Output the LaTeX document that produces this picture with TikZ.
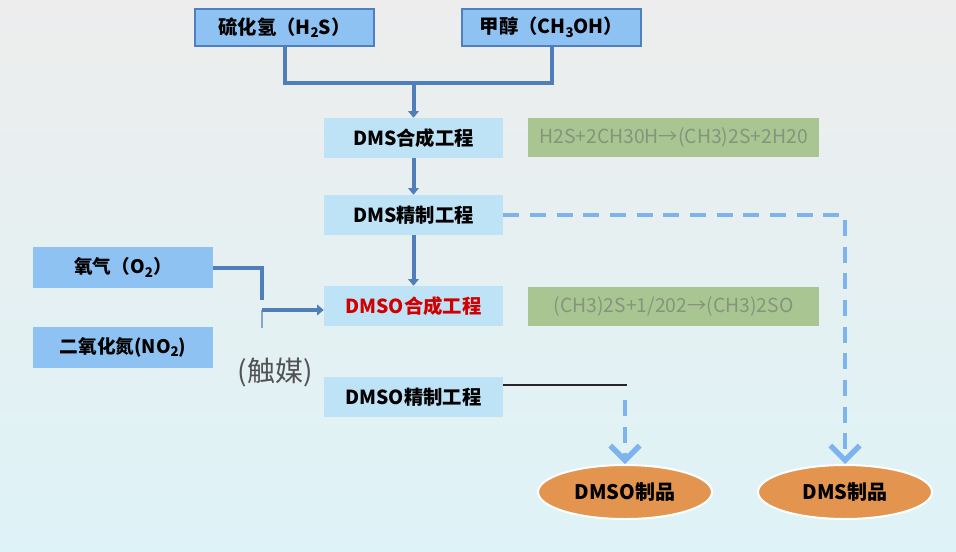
\documentclass[tikz,border=0pt]{standalone}
\usepackage{fontspec}
\setmainfont{Noto Sans CJK SC}
\usetikzlibrary{arrows.meta,shapes.geometric,calc}
\definecolor{topfill}{HTML}{8EC2F3}
\definecolor{topline}{HTML}{4F7FBF}
\definecolor{pipe}{HTML}{4F7EB8}
\definecolor{procfill}{HTML}{BEE3F6}
\definecolor{greenfill}{HTML}{A9C592}
\definecolor{greentext}{HTML}{85957D}
\definecolor{dashblue}{HTML}{7DB4EE}
\definecolor{orangefill}{HTML}{E3954F}
\definecolor{redtext}{HTML}{D00000}
\newcommand{\sub}[1]{\raisebox{-0.35ex}{\fontsize{10}{10}\selectfont #1}}
\tikzset{
  rawbox/.style={draw=topline, line width=1.2pt, fill=topfill, minimum width=134pt, minimum height=28pt, inner sep=0pt, font=\fontsize{14.5}{16}\selectfont\bfseries},
  feedbox/.style={fill=topfill, minimum width=135pt, minimum height=30.75pt, inner sep=0pt, font=\fontsize{14}{16}\selectfont\bfseries},
  procbox/.style={fill=procfill, minimum width=134.25pt, minimum height=30pt, inner sep=0pt, font=\fontsize{14.5}{16}\selectfont\bfseries},
  eqbox/.style={fill=greenfill, text=greentext, minimum width=218.25pt, minimum height=29.25pt, inner sep=0pt, font=\fontsize{14.5}{16}\selectfont},
  prod/.style={ellipse, fill=orangefill, draw=white, line width=1.5pt, minimum width=130.5pt, minimum height=40.5pt, inner sep=0pt, font=\fontsize{15}{17}\selectfont\bfseries},
  pipeline/.style={draw=pipe, line width=3pt},
  pipearrow/.style={draw=pipe, line width=3pt, -{Triangle[length=5pt,width=8pt]}},
  dasharrow/.style={draw=dashblue, line width=3.5pt, dash pattern=on 12pt off 8pt, -{Straight Barb[length=11pt,width=22pt,line width=4pt]}},
}
\begin{document}
\begin{tikzpicture}[x=0.75pt,y=-0.75pt]
\useasboundingbox (0,0) rectangle (956,551);
\shade[top color=white!93!black, bottom color={rgb,255:red,222;green,243;blue,247}] (0,0) rectangle (956,551);

% nodes
\node[rawbox] (h2s) at (284.5,27.5) {硫化氢（H\sub{2}S）};
\node[rawbox] (meoh) at (551.5,27.5) {甲醇（CH\sub{3}OH）};
\node[procbox] (dmssyn) at (413.5,138) {DMS合成工程};
\node[procbox] (dmsref) at (413.5,215) {DMS精制工程};
\node[procbox, text=redtext] (dmsosyn) at (413.5,306) {DMSO合成工程};
\node[procbox] (dmsoref) at (413.5,397) {DMSO精制工程};
\node[eqbox] (eq1) at (673.5,137.5) {H2S+2CH30H→(CH3)2S+2H20};
\node[eqbox] (eq2) at (673.5,306) {(CH3)2S+1/202→(CH3)2SO};
\node[feedbox] (o2) at (123,267.5) {氧气（O\sub{2}）};
\node[feedbox] (no2) at (123,347) {二氧化氮(NO\sub{2})};
\node[text=black!68, font=\fontsize{21}{24}\selectfont] (cat) at (275,372) {(触媒)};
\node[prod] (dmsoprod) at (625,492) {DMSO制品};
\node[prod] (dmsprod) at (845,492) {DMS制品};

% coordinates
\coordinate (j) at (413.5,83);
\coordinate (k1) at (262,300);
\coordinate (k2) at (262,310);
\coordinate (k3) at (262,328);
\coordinate (t1) at (627,385);
\coordinate (t2) at (625,400);

% connectors
\draw[pipeline] (h2s.south) |- (j) -| (meoh.south);
\draw[pipearrow] (j) -- (dmssyn.north);
\draw[pipearrow] (dmssyn.south) -- (dmsref.north);
\draw[pipearrow] (dmsref.south) -- (dmsosyn.north);
\draw[pipeline] (o2.east) -| (k1);
\draw[draw=pipe!70, line width=2pt] (k2) -- (k3);
\draw[pipearrow] (k2) -- (k2 -| dmsosyn.west);
\draw[dasharrow] (dmsref.east) -| (dmsprod.north);
\draw[black!85, line width=0.8pt] (dmsoref.east |- t1) -- (t1);
\draw[dasharrow] (t2) -- (dmsoprod.north);
\end{tikzpicture}
\end{document}
